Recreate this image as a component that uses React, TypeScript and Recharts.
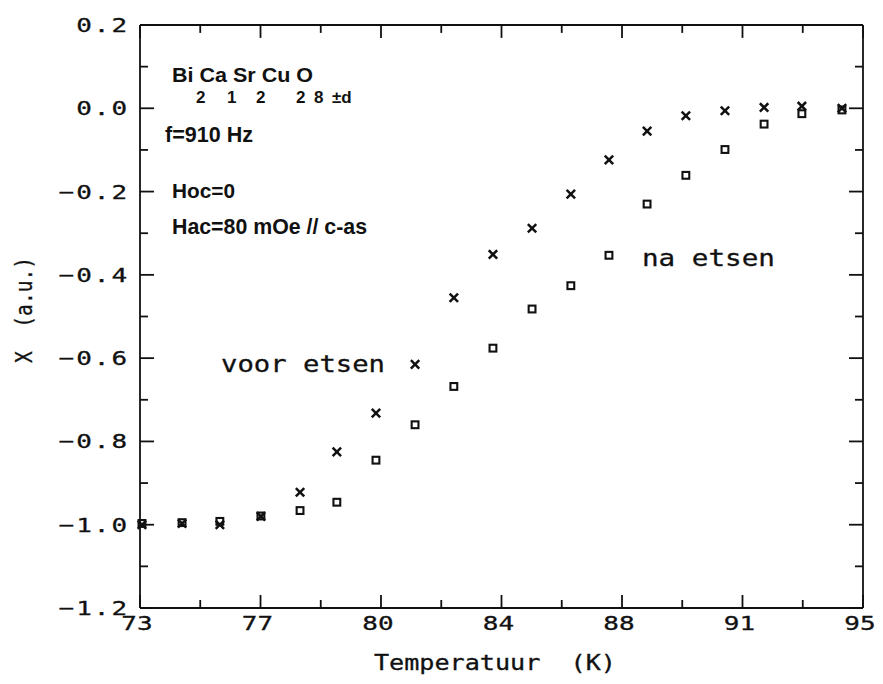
import { ReferenceLine, Scatter, ScatterChart, XAxis, YAxis } from "recharts";

// temperature (K) of each measurement, shared by both series
const temps = [
  73.06, 74.28, 75.43, 76.68, 77.87, 78.99, 80.18, 81.37, 82.55, 83.74,
  84.93, 86.11, 87.27, 88.43, 89.61, 90.8, 91.99, 93.14, 94.36,
];
// X (a.u.) before etching (crosses)
const voorEtsen = [
  -1.0, -0.997, -1.0, -0.98, -0.922, -0.825, -0.732, -0.615, -0.455, -0.351,
  -0.288, -0.206, -0.124, -0.055, -0.018, -0.006, 0.002, 0.005, 0.0,
];
// X (a.u.) after etching (open squares)
const naEtsen = [
  -0.997, -0.995, -0.992, -0.979, -0.966, -0.946, -0.845, -0.76, -0.668, -0.576,
  -0.482, -0.426, -0.353, -0.23, -0.161, -0.099, -0.038, -0.013, -0.004,
];

const xTicks = [73, 74.833, 76.667, 78.5, 80.333, 82.167, 84, 85.833, 87.667, 89.5, 91.333, 93.167, 95];
const xLabels = ["73", "77", "80", "84", "88", "91", "95"];
const yTicks = [-1.2, -1.1, -1.0, -0.9, -0.8, -0.7, -0.6, -0.5, -0.4, -0.3, -0.2, -0.1, 0.0, 0.1, 0.2];
const yLabels = ["−1.2", "−1.0", "−0.8", "−0.6", "−0.4", "−0.2", "0.0", "0.2"];

const Y_MIN = -1.2;
const Y_MAX = 0.2;
// inward tick lengths on the top edge, in data units (≈13 px and ≈8 px)
const TOP_MAJOR = 0.031;
const TOP_MINOR = 0.019;

const INK = "#111";
const MONO = "'DejaVu Sans Mono', monospace";
const SANS = "'Liberation Sans', Arial, sans-serif";

const MARGIN = { top: 25, right: 19, bottom: 36, left: 60 };

const voorData = temps.map((t, i) => ({ t, v: voorEtsen[i] }));
const naData = temps.map((t, i) => ({ t, v: naEtsen[i] }));

function BottomTick(props: any) {
  const { x, y, index } = props;
  const major = index % 2 === 0;
  return (
    <g>
      <line x1={x} y1={y} x2={x} y2={y - (major ? 13 : 8)} stroke={INK} strokeWidth={1.8} />
      {major && (
        <text
          transform={`translate(${x - 3},${y + 22}) scale(1.3,1)`}
          textAnchor="middle"
          fontFamily={MONO}
          fontSize={20}
          fill={INK}
          stroke={INK}
          strokeWidth={0.3}
        >
          {xLabels[index / 2]}
        </text>
      )}
    </g>
  );
}

function LeftTick(props: any) {
  const { x, y, index } = props;
  const major = index % 2 === 0;
  return (
    <g>
      <line x1={x} y1={y} x2={x + (major ? 14 : 8)} y2={y} stroke={INK} strokeWidth={1.8} />
      {major && (
        <text
          transform={`translate(${x - 11},${y + 7}) scale(1.3,1)`}
          textAnchor="end"
          fontFamily={MONO}
          fontSize={20}
          letterSpacing={1.5}
          fill={INK}
          stroke={INK}
          strokeWidth={0.3}
        >
          {yLabels[index / 2]}
        </text>
      )}
    </g>
  );
}

function RightTick(props: any) {
  const { x, y, index } = props;
  const major = index % 2 === 0;
  return <line x1={x} y1={y} x2={x - (major ? 14 : 8)} y2={y} stroke={INK} strokeWidth={1.8} />;
}

function Cross(props: any) {
  const { cx, cy } = props;
  const r = 4.2;
  return (
    <g stroke={INK} strokeWidth={2.5}>
      <line x1={cx - r} y1={cy - r} x2={cx + r} y2={cy + r} />
      <line x1={cx - r} y1={cy + r} x2={cx + r} y2={cy - r} />
    </g>
  );
}

function Square(props: any) {
  const { cx, cy } = props;
  return <rect x={cx - 3.4} y={cy - 3.4} width={6.8} height={6.8} fill="none" stroke={INK} strokeWidth={2.1} />;
}

function NoMark() {
  return <g />;
}

const axisLine = { stroke: INK, strokeWidth: 1.8 };

export default function App() {
  return (
    <div style={{ position: "absolute", left: 0, top: 0, width: 883, height: 684, background: "#fff" }}>
      <ScatterChart width={883} height={684} margin={MARGIN}>
        <XAxis
          type="number"
          dataKey="t"
          domain={[73, 95]}
          ticks={xTicks}
          interval={0}
          height={40}
          tickSize={0}
          tickMargin={0}
          tickLine={false}
          axisLine={axisLine}
          tick={<BottomTick />}
        />
        <YAxis
          type="number"
          dataKey="v"
          domain={[Y_MIN, Y_MAX]}
          ticks={yTicks}
          interval={0}
          width={80}
          tickSize={0}
          tickMargin={0}
          tickLine={false}
          axisLine={axisLine}
          tick={<LeftTick />}
        />
        <YAxis
          yAxisId="right"
          orientation="right"
          type="number"
          dataKey="v"
          domain={[Y_MIN, Y_MAX]}
          ticks={yTicks}
          interval={0}
          width={1}
          tickSize={0}
          tickMargin={0}
          tickLine={false}
          axisLine={axisLine}
          tick={<RightTick />}
        />
        {/* top edge of the frame with its inward ticks */}
        <ReferenceLine y={Y_MAX} stroke={INK} strokeWidth={1.8} ifOverflow="visible" />
        {xTicks.map((t, i) => (
          <ReferenceLine
            key={t}
            segment={[
              { x: t, y: Y_MAX },
              { x: t, y: Y_MAX - (i % 2 === 0 ? TOP_MAJOR : TOP_MINOR) },
            ]}
            stroke={INK}
            strokeWidth={1.8}
            ifOverflow="visible"
          />
        ))}
        <Scatter name="na etsen" data={naData} shape={<Square />} isAnimationActive={false} />
        <Scatter name="voor etsen" data={voorData} shape={<Cross />} isAnimationActive={false} />
        {/* invisible copy so the right frame axis gets a domain */}
        <Scatter
          yAxisId="right"
          data={naData}
          shape={<NoMark />}
          legendType="none"
          isAnimationActive={false}
        />
      </ScatterChart>

      <svg
        width={883}
        height={684}
        style={{ position: "absolute", left: 0, top: 0, pointerEvents: "none" }}
      >
        <g fontFamily={SANS} fill={INK} fontWeight="bold">
          <text x={172} y={82} fontSize={20} textLength={141} lengthAdjust="spacingAndGlyphs">
            Bi Ca Sr Cu O
          </text>
          <text y={103} fontSize={17}>
            <tspan x={196}>2</tspan>
            <tspan x={227}>1</tspan>
            <tspan x={256}>2</tspan>
            <tspan x={296}>2</tspan>
            <tspan x={314}>8</tspan>
            <tspan x={332}>±d</tspan>
          </text>
          <text x={165} y={142} fontSize={22} textLength={88} lengthAdjust="spacingAndGlyphs">
            f=910 Hz
          </text>
          <text x={172} y={198} fontSize={21} textLength={63} lengthAdjust="spacingAndGlyphs">
            Hoc=0
          </text>
          <text x={172} y={234} fontSize={22} textLength={195} lengthAdjust="spacingAndGlyphs">
            Hac=80 mOe // c-as
          </text>
        </g>
        <g fontFamily={MONO} fill={INK} stroke={INK} strokeWidth={0.3}>
          <text x={221} y={372} fontSize={23} textLength={164} lengthAdjust="spacingAndGlyphs">
            voor etsen
          </text>
          <text x={642} y={266} fontSize={23} textLength={133} lengthAdjust="spacingAndGlyphs">
            na etsen
          </text>
          <text
            x={374}
            y={670}
            fontSize={21}
            textLength={242}
            lengthAdjust="spacingAndGlyphs"
            style={{ whiteSpace: "pre" }}
          >
            {"Temperatuur  (K)"}
          </text>
          <text
            transform="translate(32,310) rotate(-90)"
            textAnchor="middle"
            fontSize={23}
            textLength={106}
            lengthAdjust="spacingAndGlyphs"
            style={{ whiteSpace: "pre" }}
          >
            {"X  (a.u.)"}
          </text>
        </g>
      </svg>
    </div>
  );
}
